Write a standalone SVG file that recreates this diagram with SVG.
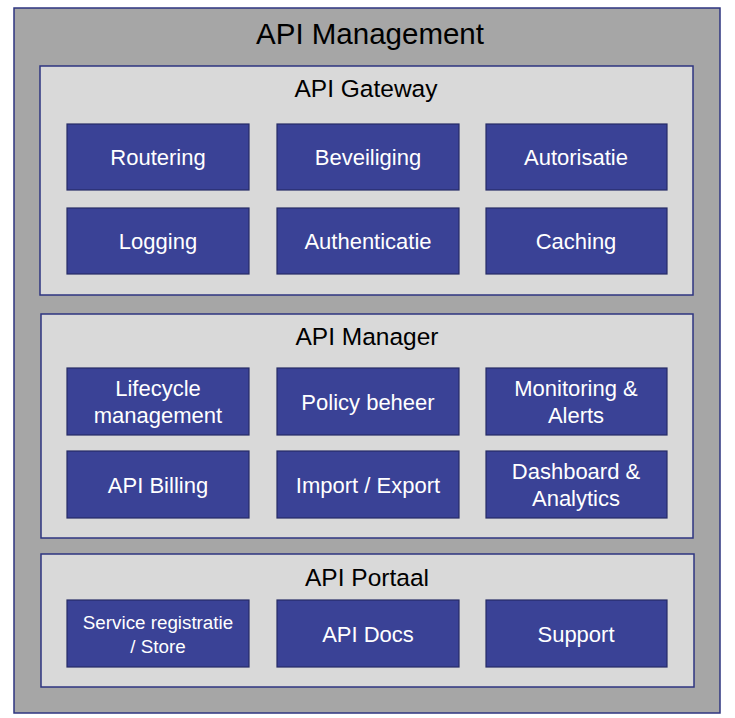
<svg xmlns="http://www.w3.org/2000/svg" width="735" height="718" viewBox="0 0 735 718">
<style>
.outer{fill:#a6a6a6;stroke:#2e3580;stroke-width:1.5}
.panel{fill:#d9d9d9;stroke:#2e3580;stroke-width:1.5}
.box{fill:#3a4296;stroke:#262b66;stroke-width:1.2}
text{font-family:"Liberation Sans",Arial,sans-serif;text-anchor:middle}
.t1{font-size:29.5px;fill:#000}
.t2{font-size:24.5px;fill:#000}
.bt{font-size:22px;fill:#fff}
.bs{font-size:18.8px;fill:#fff}
</style>
<g id="api-management">
<rect class="outer" x="14" y="8" width="706" height="705"/>
<text class="t1" x="370" y="44">API Management</text>
</g>
<g id="api-gateway">
<rect class="panel" x="40" y="66" width="653" height="229"/>
<text class="t2" x="366" y="97">API Gateway</text>
</g>
<g id="routering"><rect class="box" x="67" y="124" width="182" height="66"/><text class="bt" x="158" y="165">Routering</text></g>
<g id="beveiliging"><rect class="box" x="277" y="124" width="182" height="66"/><text class="bt" x="368" y="165">Beveiliging</text></g>
<g id="autorisatie"><rect class="box" x="486" y="124" width="181" height="66"/><text class="bt" x="576" y="165">Autorisatie</text></g>
<g id="logging"><rect class="box" x="67" y="208" width="182" height="66"/><text class="bt" x="158" y="249">Logging</text></g>
<g id="authenticatie"><rect class="box" x="277" y="208" width="182" height="66"/><text class="bt" x="368" y="249">Authenticatie</text></g>
<g id="caching"><rect class="box" x="486" y="208" width="181" height="66"/><text class="bt" x="576" y="249">Caching</text></g>
<g id="api-manager">
<rect class="panel" x="41" y="314" width="652" height="224"/>
<text class="t2" x="367" y="345">API Manager</text>
</g>
<g id="lifecycle"><rect class="box" x="67" y="368" width="182" height="67"/><text class="bt" x="158" y="396">Lifecycle</text><text class="bt" x="158" y="423">management</text></g>
<g id="policy"><rect class="box" x="277" y="368" width="182" height="67"/><text class="bt" x="368" y="410">Policy beheer</text></g>
<g id="monitoring"><rect class="box" x="486" y="368" width="181" height="67"/><text class="bt" x="576" y="396">Monitoring &amp;</text><text class="bt" x="576" y="423">Alerts</text></g>
<g id="billing"><rect class="box" x="67" y="451" width="182" height="67"/><text class="bt" x="158" y="493">API Billing</text></g>
<g id="import-export"><rect class="box" x="277" y="451" width="182" height="67"/><text class="bt" x="368" y="493">Import / Export</text></g>
<g id="dashboard"><rect class="box" x="486" y="451" width="181" height="67"/><text class="bt" x="576" y="479">Dashboard &amp;</text><text class="bt" x="576" y="506">Analytics</text></g>
<g id="api-portaal">
<rect class="panel" x="41" y="554" width="653" height="133"/>
<text class="t2" x="367" y="586">API Portaal</text>
</g>
<g id="service"><rect class="box" x="67" y="600" width="182" height="67"/><text class="bs" x="158" y="629">Service registratie</text><text class="bs" x="158" y="653">/ Store</text></g>
<g id="docs"><rect class="box" x="277" y="600" width="182" height="67"/><text class="bt" x="368" y="642">API Docs</text></g>
<g id="support"><rect class="box" x="486" y="600" width="181" height="67"/><text class="bt" x="576" y="642">Support</text></g>
<g id="connectors"/>
</svg>
